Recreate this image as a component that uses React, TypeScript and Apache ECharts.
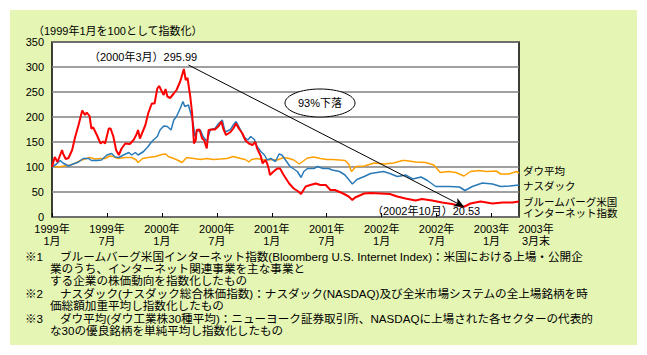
import React, { useEffect, useRef } from "react";
import * as echarts from "echarts";

// x = months since 1999年1月, y = index (1999年1月 = 100)
const internetData: [number, number][] = [
  [0, 100], [0.3, 120], [0.6, 110], [1.1, 134], [1.2, 127], [1.5, 116], [1.8, 118], [2.2, 134], [2.5, 158], [2.9, 184],
  [3.3, 213], [3.6, 204], [3.8, 209], [4.1, 202], [4.3, 177], [4.5, 179], [4.9, 164], [5.3, 147], [5.6, 151], [5.8, 147],
  [6.2, 177], [6.4, 177], [6.7, 161], [7.0, 134], [7.3, 124], [7.6, 137], [8.0, 147], [8.5, 146], [8.9, 154], [9.2, 164],
  [9.4, 174], [9.6, 157], [10.2, 184], [10.5, 207], [10.9, 227], [11.2, 227], [11.5, 257], [11.7, 262], [12.0, 251], [12.2, 244],
  [12.4, 256], [12.6, 241], [12.9, 238], [13.3, 247], [13.6, 254], [14.0, 271], [14.4, 295.99], [14.6, 274], [14.8, 278], [15.1, 241],
  [15.3, 208], [15.5, 147], [15.7, 154], [15.8, 174], [16.1, 175], [16.4, 157], [16.6, 154], [16.9, 137], [17.1, 174], [17.5, 175],
  [17.8, 175], [18.2, 182], [18.5, 191], [18.7, 177], [19.0, 164], [19.5, 170], [19.8, 177], [20.1, 187], [20.4, 177], [20.8, 167],
  [21.1, 154], [21.5, 147], [21.9, 144], [22.2, 150], [22.4, 137], [22.8, 122], [23.0, 107], [23.3, 114], [23.5, 107], [23.7, 94],
  [23.8, 84], [24.2, 91], [24.6, 97], [24.9, 97], [25.3, 84], [25.9, 67], [26.4, 57], [26.9, 51], [27.2, 46], [27.7, 61],
  [28.2, 64], [28.8, 67], [29.3, 64], [29.9, 64], [30.4, 54], [30.9, 54], [31.8, 47], [32.4, 41], [32.8, 34], [33.1, 39],
  [34.1, 47], [34.8, 48], [35.9, 47], [36.9, 46], [37.7, 41], [38.6, 37], [39.7, 33], [40.4, 36], [41.5, 33], [42.6, 29],
  [43.7, 26], [44.6, 22], [45.0, 20.53], [45.7, 27], [46.8, 31], [48.1, 27], [49.2, 29], [50.3, 29], [51, 31],
];

const nasdaqData: [number, number][] = [
  [0, 100], [0.5, 106], [0.9, 113], [1.2, 108], [1.8, 102], [2.3, 106], [2.9, 110], [3.4, 117], [4.0, 117], [4.3, 113],
  [4.9, 113], [5.4, 114], [6.0, 124], [6.5, 127], [6.9, 120], [7.3, 119], [7.8, 124], [8.4, 129], [8.7, 124], [9.1, 129],
  [9.4, 124], [10.0, 131], [10.5, 141], [10.9, 151], [11.5, 161], [11.8, 174], [12.2, 182], [12.6, 181], [13.0, 174], [13.3, 194],
  [13.6, 201], [14.0, 217], [14.3, 231], [14.5, 221], [14.9, 224], [15.3, 197], [15.5, 177], [15.6, 161], [15.8, 171], [16.2, 174],
  [16.5, 161], [16.9, 151], [17.3, 175], [17.8, 177], [18.2, 187], [18.6, 194], [18.9, 170], [19.5, 175], [19.8, 184], [20.1, 191],
  [20.6, 174], [20.9, 161], [21.4, 154], [21.7, 161], [22.1, 155], [22.4, 141], [22.8, 131], [23.2, 124], [23.5, 114], [23.9, 117],
  [24.4, 111], [24.8, 126], [25.1, 124], [25.5, 114], [26.0, 101], [26.8, 91], [27.2, 79], [27.5, 91], [27.9, 97], [28.6, 97],
  [29.0, 101], [29.6, 97], [30.2, 97], [30.6, 94], [31.4, 91], [32.0, 84], [32.8, 66], [33.3, 75], [34.1, 81], [34.8, 87],
  [35.5, 89], [36.2, 91], [36.9, 87], [37.7, 81], [38.4, 83], [38.6, 84], [39.4, 76], [40.3, 80], [41.0, 73], [41.9, 61],
  [43.4, 61], [44.5, 60], [45.1, 53], [45.9, 61], [47.0, 68], [48.1, 66], [49.0, 61], [50.0, 62], [51, 64],
];

const dowData: [number, number][] = [
  [0, 102], [0.7, 100], [1.3, 102], [2.0, 104], [2.5, 107], [3.1, 113], [3.6, 116], [4.1, 119], [4.7, 116], [5.3, 117],
  [5.8, 117], [6.3, 122], [6.7, 121], [7.2, 117], [8.0, 119], [8.7, 119], [9.2, 114], [9.4, 109], [9.9, 117], [10.5, 119],
  [11.3, 121], [12.0, 125], [12.4, 126], [12.7, 121], [13.3, 117], [13.8, 113], [14.2, 109], [14.7, 119], [15.5, 117], [16.2, 115],
  [16.9, 117], [17.6, 115], [18.4, 116], [19.1, 117], [19.8, 121], [20.6, 117], [21.1, 115], [21.5, 110], [21.8, 115], [22.4, 117],
  [23.1, 114], [23.8, 115], [24.6, 114], [25.3, 119], [25.9, 117], [26.4, 114], [27.0, 106], [27.3, 110], [27.9, 118], [28.6, 120],
  [29.3, 117], [30.0, 115], [30.6, 115], [31.4, 114], [32.0, 113], [32.4, 106], [32.7, 91], [33.2, 101], [34.1, 102], [35.2, 108],
  [36.3, 106], [37.3, 108], [38.3, 113], [38.6, 113], [39.7, 110], [40.8, 109], [41.7, 104], [42.4, 89], [43.3, 91], [44.1, 89],
  [45.0, 82], [45.7, 91], [46.6, 93], [47.5, 91], [48.5, 92], [49.0, 86], [49.9, 86], [50.7, 91], [51, 88],
];

const tickMonths = [0, 6, 12, 18, 24, 30, 36, 42, 48];
const tickLabels = [
  "1999年\n1月", "1999年\n7月", "2000年\n1月", "2000年\n7月", "2001年\n1月",
  "2001年\n7月", "2002年\n1月", "2002年\n7月", "2003年\n1月",
];
const endMonth = 51;
const endLabel = "2003年\n3月末";

const peakPoint: [number, number] = [14.9, 304];
const troughPoint: [number, number] = [45, 20.53];

const seriesNames = ["ダウ平均", "ナスダック", "ブルームバーグ米国\nインターネット指数"];

const noteMarks = ["※1", "※2", "※3"];
const noteFirstLines = [
  "ブルームバーグ米国インターネット指数(Bloomberg U.S. Internet Index)：米国における上場・公開企",
  "ナスダック(ナスダック総合株価指数)：ナスダック(NASDAQ)及び全米市場システムの全上場銘柄を時",
  "ダウ平均(ダウ工業株30種平均)：ニューヨーク証券取引所、NASDAQに上場された各セクターの代表的",
];
const noteMoreLines = [
  ["業のうち、インターネット関連事業を主な事業と", "する企業の株価動向を指数化したもの"],
  ["価総額加重平均し指数化したもの"],
  ["な30の優良銘柄を単純平均し指数化したもの"],
];

const FONT = "'Liberation Sans', 'Noto Sans CJK JP', sans-serif";

export default function App() {
  const ref = useRef<HTMLDivElement>(null);
  useEffect(() => {
    if (!ref.current) return;
    const chart = echarts.init(ref.current, null, { renderer: "svg" });
    const noteFont = `11.6px ${FONT}`;
    const graphics: any[] = [
      {
        type: "rect",
        z: -10,
        shape: { x: 10, y: 10, width: 627, height: 335 },
        style: { fill: "#E5F5B3" },
      },
      {
        type: "text",
        x: 33,
        y: 31,
        style: { text: "（1999年1月を100として指数化）", font: `11px ${FONT}`, fill: "#000", verticalAlign: "middle" },
      },
      {
        type: "text",
        x: 89,
        y: 57,
        z: 10,
        style: { text: "（2000年3月）295.99", font: `11px ${FONT}`, fill: "#000", verticalAlign: "middle" },
      },
      {
        type: "text",
        x: 372,
        y: 211,
        z: 10,
        style: { text: "（2002年10月）20.53", font: `11px ${FONT}`, fill: "#000", verticalAlign: "middle" },
      },
      {
        type: "ellipse",
        z: 10,
        shape: { cx: 320, cy: 103, rx: 35, ry: 14 },
        style: { fill: "#fff", stroke: "#000", lineWidth: 1 },
      },
      {
        type: "text",
        x: 320,
        y: 103,
        z: 11,
        style: { text: "93%下落", font: `11px ${FONT}`, fill: "#000", align: "center", verticalAlign: "middle" },
      },
      {
        type: "text",
        x: 523,
        y: 171,
        style: { text: seriesNames[0], font: `10.5px ${FONT}`, fill: "#000", verticalAlign: "middle" },
      },
      {
        type: "text",
        x: 523,
        y: 186,
        style: { text: seriesNames[1], font: `10.5px ${FONT}`, fill: "#000", verticalAlign: "middle" },
      },
      {
        type: "text",
        x: 523,
        y: 207,
        style: { text: seriesNames[2], font: `10.5px ${FONT}`, fill: "#000", verticalAlign: "middle", lineHeight: 11 },
      },
    ];
    let y = 256;
    const step = 12.4;
    noteMarks.forEach((mark, i) => {
      graphics.push({
        type: "text",
        x: 25,
        y,
        style: { text: mark, font: noteFont, fill: "#000", verticalAlign: "middle" },
      });
      graphics.push({
        type: "text",
        x: 60,
        y,
        style: { text: noteFirstLines[i], font: noteFont, fill: "#000", verticalAlign: "middle" },
      });
      y += step;
      noteMoreLines[i].forEach((t) => {
        graphics.push({
          type: "text",
          x: 50,
          y,
          style: { text: t, font: noteFont, fill: "#000", verticalAlign: "middle" },
        });
        y += step;
      });
    });

    const labelBase = {
      fontSize: 11,
      lineHeight: 12,
      color: "#000",
      margin: 6,
      fontFamily: FONT,
    };

    chart.setOption({
      animation: false,
      backgroundColor: "#fff",
      textStyle: { fontFamily: FONT },
      grid: {
        left: 52,
        top: 42,
        right: 128,
        bottom: 138,
        show: true,
        backgroundColor: "#fff",
        borderColor: "#000",
        borderWidth: 1.5,
        containLabel: false,
        outerBoundsMode: "none",
      },
      xAxis: [
        {
          type: "value",
          min: 0,
          max: endMonth,
          interval: 6,
          axisLine: { show: false },
          axisTick: { show: true, inside: true, length: 4, lineStyle: { color: "#000", width: 1 } },
          splitLine: { show: false },
          axisLabel: {
            ...labelBase,
            showMaxLabel: false,
            showMinLabel: true,
            formatter: (v: number) => {
              const i = tickMonths.indexOf(Math.round(v * 10) / 10);
              return i >= 0 ? tickLabels[i] : "";
            },
          },
        },
        {
          type: "value",
          position: "bottom",
          min: 0,
          max: endMonth,
          interval: endMonth,
          axisLine: { show: false },
          axisTick: { show: false },
          splitLine: { show: false },
          axisLabel: {
            ...labelBase,
            padding: [0, 0, 0, 34],
            showMaxLabel: true,
            showMinLabel: false,
            formatter: (v: number) => (Math.round(v) === endMonth ? endLabel : ""),
          },
        },
      ],
      yAxis: {
        type: "value",
        min: 0,
        max: 350,
        interval: 50,
        axisLine: { show: false },
        axisTick: { show: false },
        splitLine: { show: true, lineStyle: { color: "#808080", width: 1.5 } },
        axisLabel: { fontSize: 11, color: "#000", margin: 8, fontFamily: FONT },
      },
      series: [
        {
          name: "ダウ平均",
          type: "line",
          data: dowData,
          symbol: "none",
          lineStyle: { color: "#FFA000", width: 1.5 },
          z: 2,
        },
        {
          name: "ナスダック",
          type: "line",
          data: nasdaqData,
          symbol: "none",
          lineStyle: { color: "#2A7AB8", width: 1.5 },
          z: 3,
        },
        {
          name: "ブルームバーグ米国インターネット指数",
          type: "line",
          data: internetData,
          symbol: "none",
          lineStyle: { color: "#FF0000", width: 2 },
          z: 4,
          markLine: {
            silent: true,
            symbol: ["none", "arrow"],
            symbolSize: [7, 10],
            label: { show: false },
            lineStyle: { color: "#000", width: 1, type: "solid" },
            data: [[{ coord: peakPoint }, { coord: troughPoint }]],
          },
        },
      ],
      graphic: graphics,
    });
    return () => chart.dispose();
  }, []);
  return <div ref={ref} style={{ position: "fixed", left: 0, top: 0, width: 647, height: 355 }} />;
}
